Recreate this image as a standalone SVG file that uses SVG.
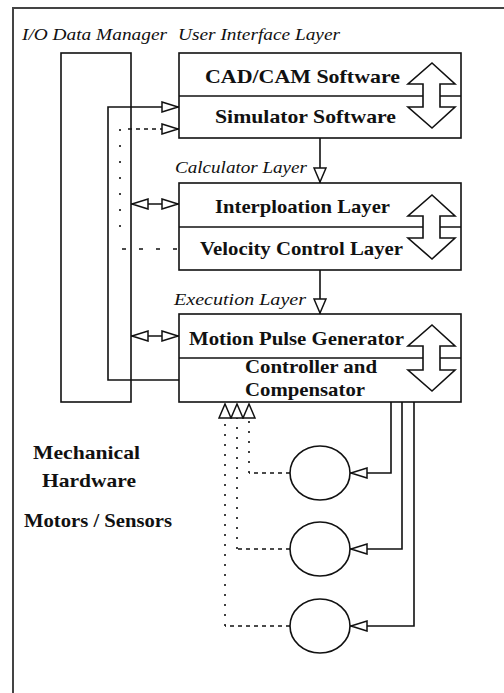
<svg xmlns="http://www.w3.org/2000/svg" width="504" height="693" viewBox="0 0 504 693">
<style>
  .ln{fill:none;stroke:#111;stroke-width:1.6}
  .box{fill:#fff;stroke:#111;stroke-width:1.6}
  .big{fill:#fff;stroke:#111;stroke-width:1.6;stroke-linejoin:miter}
  .dash{fill:none;stroke:#111;stroke-width:1.5;stroke-dasharray:4 4}
  .dash2{fill:none;stroke:#111;stroke-width:1.5;stroke-dasharray:4 13}
  .dot{fill:none;stroke:#111;stroke-width:1.6;stroke-dasharray:2 8}
  .dot2{fill:none;stroke:#111;stroke-width:1.6;stroke-dasharray:2 14}
  .frame{fill:none;stroke:#444;stroke-width:2}
  .b{font-family:"Liberation Serif","Times New Roman",serif;font-weight:bold;font-size:19px;fill:#111}
  .i{font-family:"Liberation Serif","Times New Roman",serif;font-style:italic;font-size:16px;fill:#111}
</style>
<defs>
  <marker id="tri" viewBox="0 0 18 12" refX="18" refY="6" markerWidth="18" markerHeight="12" markerUnits="userSpaceOnUse" orient="auto-start-reverse">
    <path d="M1,1 L17,6 L1,11 Z" fill="#fff" stroke="#111" stroke-width="1.5" stroke-dasharray="none"/>
  </marker>
  <marker id="triv" viewBox="0 0 16 14" refX="16" refY="7" markerWidth="16" markerHeight="14" markerUnits="userSpaceOnUse" orient="auto">
    <path d="M1,1 L15,7 L1,13 Z" fill="#fff" stroke="#111" stroke-width="1.5" stroke-dasharray="none"/>
  </marker>
</defs>

<g id="frame">
  <path class="frame" d="M13,693 L13,8 L504,8"/>
</g>

<g id="labels">
  <text class="i" x="22" y="40" textLength="145" lengthAdjust="spacingAndGlyphs">I/O Data Manager</text>
  <text class="i" x="178" y="40" textLength="162" lengthAdjust="spacingAndGlyphs">User Interface Layer</text>
  <text class="i" x="175" y="173" textLength="132" lengthAdjust="spacingAndGlyphs">Calculator Layer</text>
  <text class="i" x="174" y="305" textLength="132" lengthAdjust="spacingAndGlyphs">Execution Layer</text>
  <text class="b" x="33" y="459" textLength="107" lengthAdjust="spacingAndGlyphs">Mechanical</text>
  <text class="b" x="42" y="487" textLength="94" lengthAdjust="spacingAndGlyphs">Hardware</text>
  <text class="b" x="24" y="527" textLength="148" lengthAdjust="spacingAndGlyphs">Motors / Sensors</text>
</g>

<g id="io-manager">
  <rect class="ln" x="61" y="53" width="70" height="349"/>
</g>

<g id="user-interface-layer">
  <rect class="box" x="179" y="53" width="282" height="85"/>
  <line class="ln" x1="179" y1="96" x2="461" y2="96"/>
  <text class="b" x="205" y="83" textLength="195" lengthAdjust="spacingAndGlyphs">CAD/CAM Software</text>
  <text class="b" x="215" y="123" textLength="181" lengthAdjust="spacingAndGlyphs">Simulator Software</text>
  <polygon class="big" points="432,63 455,84 440,84 440,107 455,107 432,128 408,107 423,107 423,84 408,84"/>
</g>

<g id="calculator-layer">
  <rect class="box" x="179" y="183" width="282" height="87"/>
  <line class="ln" x1="179" y1="227" x2="461" y2="227"/>
  <text class="b" x="215" y="213" textLength="175" lengthAdjust="spacingAndGlyphs">Interploation Layer</text>
  <text class="b" x="200" y="255" textLength="203" lengthAdjust="spacingAndGlyphs">Velocity Control Layer</text>
  <polygon class="big" points="432,195 455,216 440,216 440,238 455,238 432,259 408,238 423,238 423,216 408,216"/>
</g>

<g id="execution-layer">
  <rect class="box" x="179" y="314" width="282" height="88"/>
  <line class="ln" x1="179" y1="358" x2="461" y2="358"/>
  <text class="b" x="189" y="345" textLength="215" lengthAdjust="spacingAndGlyphs">Motion Pulse Generator</text>
  <text class="b" x="245" y="373" textLength="132" lengthAdjust="spacingAndGlyphs">Controller and</text>
  <text class="b" x="245" y="396" textLength="120" lengthAdjust="spacingAndGlyphs">Compensator</text>
  <polygon class="big" points="432,325 455,346 440,346 440,370 455,370 432,391 408,370 423,370 423,346 408,346"/>
</g>

<g id="motor1"><ellipse class="ln" cx="320" cy="473" rx="30" ry="27"/></g>
<g id="motor2"><ellipse class="ln" cx="320" cy="549" rx="30" ry="27"/></g>
<g id="motor3"><ellipse class="ln" cx="320" cy="626" rx="30" ry="27"/></g>

<g id="connectors">
  <!-- I/O manager loop -->
  <path class="ln" d="M179,380 L108,380 L108,107 L179,107" marker-end="url(#tri)"/>
  <path class="dot2" d="M120,129 L120,240"/>
  <path class="dash2" d="M122,249 L179,249"/>
  <path class="dash" d="M128,129 L179,129" marker-end="url(#tri)"/>
  <line class="ln" x1="131" y1="204" x2="179" y2="204" marker-start="url(#tri)" marker-end="url(#tri)"/>
  <line class="ln" x1="131" y1="336" x2="179" y2="336" marker-start="url(#tri)" marker-end="url(#tri)"/>
  <!-- layer flow -->
  <line class="ln" x1="320" y1="138" x2="320" y2="183" marker-end="url(#triv)"/>
  <line class="ln" x1="320" y1="270" x2="320" y2="314" marker-end="url(#triv)"/>
  <!-- controller to motors -->
  <path class="ln" d="M391,402 L391,473 L350,473" marker-end="url(#tri)"/>
  <path class="ln" d="M402,402 L402,549 L350,549" marker-end="url(#tri)"/>
  <path class="ln" d="M414,402 L414,626 L350,626" marker-end="url(#tri)"/>
  <!-- sensor feedback -->
  <path class="dash" d="M290,473 L249,473"/>
  <path class="dot" d="M249,473 L249,403" marker-end="url(#triv)"/>
  <path class="dash" d="M290,549 L237,549"/>
  <path class="dot" d="M237,549 L237,403" marker-end="url(#triv)"/>
  <path class="dash" d="M290,626 L225,626"/>
  <path class="dot" d="M225,626 L225,403" marker-end="url(#triv)"/>
</g>
</svg>
